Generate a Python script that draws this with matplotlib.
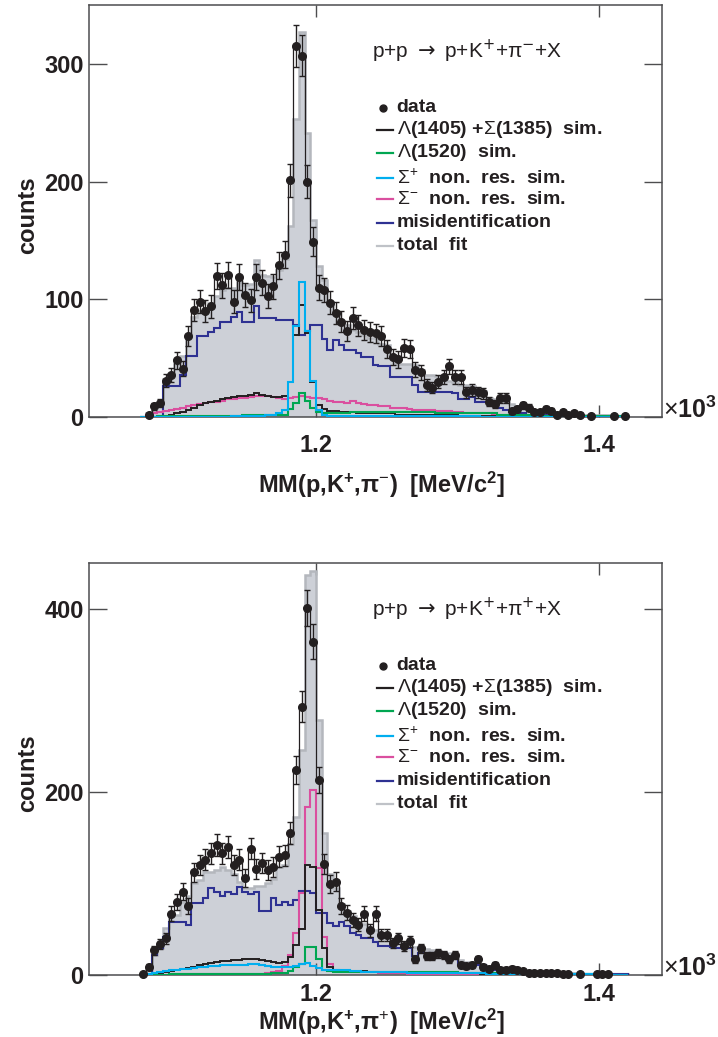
import numpy as np
import matplotlib
matplotlib.use("Agg")
import matplotlib.pyplot as plt
from matplotlib import font_manager as fm

# ---------------------------------------------------------------- binning
# 4 MeV bins of the missing mass (GeV/c^2 on the axis, x10^3 -> MeV)
edges = np.round(np.arange(1.076, 1.4201, 0.004), 3)

# ---------------------------------------------------------------- MM(p,K+,pi-)
data_pim = [0, 2, 9, 12, 31, 36, 48, 41, 69, 91,
            98, 90, 94, 120, 112, 121, 98, 119, 104, 99,
            119, 114, 103, 111, 129, 138, 201, 315, 307, 200,
            149, 110, 108, 97, 88, 81, 73, 84, 78, 74,
            72, 71, 69, 58, 51, 49, 59, 58, 40, 38,
            27, 25, 30, 34, 43, 34, 34, 21, 23, 21,
            20, 13, 11, 16, 16, 5, 7, 10, 8, 4,
            4, 7, 5, 2, 4, 2, 3, 2, 0, 1,
            0, 0, 0, 1, 0, 1]
fit_pim = [0, 3, 8, 12, 32, 36, 45, 52, 68, 85,
           90, 92, 97, 103, 108, 110, 110, 115, 112, 113,
           133, 121, 120, 119, 125, 134, 162, 253, 327, 241,
           167, 128, 116, 98, 88, 81, 78, 74, 72, 70,
           67, 67, 62, 61, 50, 45, 45, 45, 44, 40,
           36, 36, 35, 33, 31, 30, 27, 27, 26, 25,
           22, 16, 15, 14, 13, 11, 9, 8, 7, 6,
           5, 5, 4, 4, 3, 3, 3, 3, 2, 2,
           2, 2, 2, 1, 1, 1]
misid_pim = [0, 0, 0, 0, 26, 26, 26, 36, 52, 52,
             69, 69, 72, 76, 81, 81, 85, 89, 81, 81,
             94, 84, 84, 84, 82, 82, 82, 78, 70, 73,
             78, 78, 66, 57, 65, 61, 57, 57, 54, 51,
             51, 44, 43, 43, 34, 34, 34, 34, 27, 21,
             21, 21, 21, 21, 21, 20, 15, 15, 17, 13,
             13, 13, 12, 8, 6, 4, 3, 3, 2, 2,
             2, 2, 2, 1, 1, 1, 1, 1, 1, 1,
             1, 1, 1, 1, 1, 1]
sigm_pim = [0, 2, 3, 4, 5, 6, 7, 8, 9, 10,
            11, 12, 13, 13, 14, 15, 15, 16, 16, 17,
            18, 18, 18, 17, 16, 15, 16, 17, 18, 17,
            16, 16, 15, 14, 13, 13, 12, 14, 12, 11,
            10, 10, 9, 9, 8, 8, 8, 7, 6, 6,
            6, 6, 5, 5, 5, 4, 4, 3, 3, 3,
            3, 3, 2, 2, 2, 2, 2, 2, 1, 1,
            1, 1, 1, 1, 1, 1, 1, 1, 1, 1,
            1, 1, 0, 0, 0, 0]
lam1520_pim = [0, 0, 0, 1, 1, 1, 1, 1, 1, 1,
               1, 1, 1, 1, 1, 1, 1, 1, 2, 2,
               2, 2, 2, 2, 2, 2, 7, 12, 20, 14,
               8, 4, 3, 3, 3, 3, 3, 4, 4, 4,
               4, 4, 4, 4, 4, 4, 4, 4, 4, 4,
               4, 4, 3, 3, 3, 3, 3, 3, 3, 3,
               3, 3, 3, 2, 2, 2, 2, 2, 2, 2,
               2, 1, 1, 1, 1, 1, 1, 1, 1, 1,
               1, 1, 1, 1, 1, 0]
sigp_pim = [0, 0, 0, 0, 0, 0, 0, 0, 0, 0,
            0, 0, 0, 0, 0, 0, 1, 1, 1, 1,
            1, 1, 2, 2, 3, 6, 30, 77, 115, 73,
            31, 6, 2, 1, 1, 1, 1, 1, 1, 1,
            1, 1, 1, 1, 1, 1, 1, 1, 1, 1,
            1, 1, 1, 1, 1, 1, 1, 1, 1, 1,
            0, 0, 0, 0, 0, 0, 0, 0, 0, 0,
            0, 0, 0, 0, 0, 0, 0, 0, 0, 0,
            0, 0, 0, 0, 0, 0]
lam1405_pim = [0, 0, 0, 0, 1, 2, 3, 4, 6, 8,
               10, 12, 13, 14, 15, 16, 17, 18, 18, 19,
               20, 19, 18, 17, 17, 18, 30, 70, 95, 71,
               30, 10, 7, 5, 5, 4, 4, 4, 3, 3,
               3, 3, 3, 3, 3, 2, 2, 2, 2, 2,
               2, 2, 2, 2, 2, 2, 1, 1, 1, 1,
               1, 1, 1, 1, 1, 1, 1, 1, 1, 1,
               1, 1, 1, 1, 1, 0, 0, 0, 0, 0,
               0, 0, 0, 0, 0, 0]

# ---------------------------------------------------------------- MM(p,K+,pi+)
data_pip = [1, 9, 27, 34, 40, 67, 80, 91, 75, 112,
            120, 126, 133, 142, 133, 140, 120, 126, 106, 138,
            116, 122, 115, 118, 129, 131, 155, 224, 293, 401,
            364, 213, 121, 99, 102, 75, 68, 60, 55, 67,
            49, 67, 44, 44, 35, 40, 32, 37, 17, 29,
            21, 21, 24, 22, 17, 22, 11, 10, 11, 17,
            9, 7, 11, 6, 6, 7, 6, 4, 2, 2,
            2, 2, 2, 2, 1, 1, 0, 1, 0, 0,
            1, 1, 1, 0, 0, 0]
fit_pip = [0, 5, 22, 30, 51, 66, 66, 80, 86, 100,
           104, 113, 113, 115, 118, 115, 110, 102, 95, 95,
           97, 97, 100, 105, 118, 120, 143, 173, 246, 437,
           441, 279, 155, 110, 95, 78, 70, 64, 58, 56,
           50, 49, 44, 40, 36, 35, 34, 32, 31, 30,
           28, 27, 26, 25, 24, 21, 16, 14, 12, 12,
           11, 8, 8, 7, 7, 6, 4, 4, 3, 3,
           2, 2, 2, 2, 2, 2, 2, 1, 1, 1,
           1, 1, 1, 1, 1, 1]
misid_pip = [0, 0, 22, 30, 42, 58, 58, 58, 55, 79,
             79, 84, 95, 91, 86, 91, 89, 96, 91, 89,
             91, 70, 70, 84, 76, 80, 76, 82, 92, 92,
             90, 68, 68, 57, 54, 58, 53, 46, 44, 40,
             40, 36, 32, 32, 31, 30, 30, 30, 21, 24,
             24, 24, 24, 24, 17, 17, 11, 11, 11, 11,
             11, 6, 6, 6, 5, 5, 4, 2, 1, 1,
             1, 1, 1, 1, 1, 1, 1, 1, 1, 1,
             1, 1, 1, 1, 1, 1]
sigm_pip = [0, 0, 0, 0, 0, 1, 1, 1, 1, 1,
            1, 1, 1, 1, 1, 1, 1, 1, 1, 1,
            1, 1, 2, 3, 4, 10, 22, 46, 90, 184,
            202, 117, 42, 12, 6, 4, 4, 3, 3, 3,
            3, 3, 2, 2, 2, 2, 2, 1, 1, 1,
            1, 1, 1, 1, 1, 1, 1, 1, 1, 1,
            1, 1, 1, 1, 1, 1, 1, 1, 1, 1,
            1, 1, 1, 1, 0, 0, 0, 0, 0, 0,
            0, 0, 0, 0, 0, 0]
lam1520_pip = [0, 0, 0, 0, 0, 1, 1, 1, 1, 1,
               1, 1, 1, 1, 1, 1, 1, 1, 1, 1,
               1, 1, 1, 2, 2, 2, 4, 9, 12, 31,
               31, 17, 6, 4, 3, 3, 3, 3, 3, 3,
               3, 3, 3, 3, 3, 3, 3, 3, 3, 3,
               3, 3, 3, 3, 3, 3, 2, 2, 2, 2,
               2, 2, 2, 2, 2, 2, 2, 2, 2, 2,
               1, 1, 1, 1, 1, 1, 1, 1, 1, 1,
               1, 1, 1, 0, 0, 0]
sigp_pip = [0, 1, 2, 3, 4, 5, 6, 7, 7, 8,
            9, 9, 10, 10, 11, 11, 11, 11, 11, 12,
            12, 11, 10, 9, 9, 9, 9, 10, 12, 13,
            10, 8, 6, 5, 5, 6, 6, 4, 4, 3,
            3, 3, 3, 3, 3, 3, 3, 2, 2, 2,
            2, 2, 2, 2, 2, 2, 2, 2, 2, 2,
            2, 1, 1, 1, 1, 1, 1, 1, 1, 1,
            1, 1, 1, 1, 1, 1, 1, 1, 1, 1,
            1, 1, 0, 0, 0, 0]
lam1405_pip = [0, 0, 1, 2, 3, 4, 5, 7, 8, 9,
               11, 12, 13, 14, 15, 15, 16, 16, 17, 17,
               17, 16, 15, 14, 13, 14, 20, 33, 50, 120,
               118, 71, 29, 9, 6, 5, 5, 4, 4, 4,
               3, 3, 3, 3, 3, 3, 3, 3, 3, 3,
               3, 3, 2, 2, 2, 2, 2, 2, 2, 2,
               1, 1, 1, 1, 1, 1, 1, 1, 1, 1,
               1, 1, 1, 1, 0, 0, 0, 0, 0, 0,
               0, 0, 0, 0, 0, 0]

legend_labels = ["data",
                 r"$\Lambda$(1405) +$\Sigma$(1385)  sim.",
                 r"$\Lambda$(1520)  sim.",
                 r"$\Sigma^{+}$  non.  res.  sim.",
                 r"$\Sigma^{-}$  non.  res.  sim.",
                 "misidentification",
                 "total  fit"]

# ---------------------------------------------------------------- style
def has_font(name):
    try:
        fm.findfont(fm.FontProperties(family=name), fallback_to_default=False)
        return True
    except Exception:
        return False

SANS = "Liberation Sans" if has_font("Liberation Sans") else "DejaVu Sans"
NARROW = "Liberation Sans Narrow" if has_font("Liberation Sans Narrow") else SANS
BIG = 20 if NARROW != SANS else 17

plt.rcParams["font.family"] = [SANS, "DejaVu Sans"]
plt.rcParams["mathtext.fontset"] = "custom"
plt.rcParams["mathtext.rm"] = SANS
plt.rcParams["mathtext.it"] = SANS + ":italic"
plt.rcParams["mathtext.bf"] = SANS + ":bold"

INK = "#231f20"
C_AXIS = "#4d4d4f"
C_BLUE = "#2e3192"
C_CYAN = "#00aeef"
C_MAG = "#da4f9f"
C_GREEN = "#00a651"
C_FILL = "#cdd0d7"
C_FIT = "#b4b7bd"
LEG_COLORS = [None, INK, C_GREEN, C_CYAN, C_MAG, C_BLUE, "#bfc2c7"]

W, H = 718, 1037
fig = plt.figure(figsize=(W / 100, H / 100), dpi=100)


def fx(px):
    return px / W


def fy(py):
    return 1 - py / H


AX_L, AX_W, AX_H = 89.3, 572.4, 412.0
centers = 0.5 * (edges[:-1] + edges[1:])


def draw_panel(top_px, data, fit, l1405, l1520, sigp, sigm, misid,
               ymax, yticks, reaction, xlabel, xlabel_py, tick_pad):
    ax = fig.add_axes([fx(AX_L), fy(top_px + AX_H), AX_W / W, AX_H / H])

    ax.stairs(fit, edges, fill=True, color=C_FILL, lw=0, zorder=1)
    ax.stairs(fit, edges, color=C_FIT, lw=1.8, zorder=2)
    ax.stairs(misid, edges, color=C_BLUE, lw=1.5, zorder=3)
    ax.stairs(sigm, edges, color=C_MAG, lw=1.5, zorder=3)
    ax.stairs(l1405, edges, color=INK, lw=1.4, zorder=3)
    ax.stairs(l1520, edges, color=C_GREEN, lw=1.5, zorder=4)
    ax.stairs(sigp, edges, color=C_CYAN, lw=1.5, zorder=4)
    ax.stairs(data, edges, color=INK, lw=0.9, zorder=5)

    d = np.asarray(data, dtype=float)
    m = d > 0
    ax.errorbar(centers[m], d[m], yerr=np.sqrt(d[m]), fmt="o", ms=5.5,
                color=INK, ecolor=INK, elinewidth=1.0, capsize=2.4,
                capthick=1.0, zorder=6, clip_on=False)

    ax.set_xlim(1.04, 1.444)
    ax.set_ylim(0, ymax)
    ax.set_xticks([1.2, 1.4], labels=["1.2", "1.4"], fontfamily=NARROW,
                  fontweight="bold", fontsize=BIG, color=INK)
    ax.set_yticks(yticks, labels=[str(v) for v in yticks], fontfamily=NARROW,
                  fontweight="bold", fontsize=BIG, color=INK)
    ax.tick_params(axis="x", direction="in", length=8.5, width=1.0,
                   color=C_AXIS, top=True, bottom=True, pad=tick_pad)
    ax.tick_params(axis="y", direction="in", length=13, width=1.0,
                   color=C_AXIS, left=True, right=True, pad=4)
    for s in ax.spines.values():
        s.set_color(C_AXIS)
        s.set_linewidth(1.1)

    # reaction
    fig.text(fx(371.7), fy(top_px + 46.5), reaction, fontsize=15,
             color=INK, ha="left", va="center", math_fontfamily="dejavusans")

    # legend, drawn entry by entry
    rows = [103, 124.5, 147.5, 173, 194, 217.7, 241]
    for lab, col, r in zip(legend_labels, LEG_COLORS, rows):
        yy = fy(top_px + r)
        if col is None:
            fig.lines.append(plt.Line2D([fx(383)], [yy], marker="o", ms=5,
                                        color=INK, transform=fig.transFigure))
        else:
            fig.lines.append(plt.Line2D([fx(376.7), fx(393.3)], [yy, yy],
                                        color=col, lw=1.6,
                                        transform=fig.transFigure))
        fig.text(fx(396.7), yy, lab, fontsize=14, fontweight="bold",
                 color=INK, ha="left", va="center")

    # axis titles and the x10^3 multiplier
    fig.text(fx(28), fy(top_px + 210), "counts", rotation=90, fontsize=BIG,
             fontfamily=NARROW, fontweight="bold", color=INK,
             ha="center", va="center")
    fig.text(fx(381), fy(xlabel_py), xlabel, fontsize=BIG, fontfamily=NARROW,
             fontweight="bold", color=INK, ha="center", va="center")
    fig.text(fx(663), fy(top_px + 405), r"$\times$10$^{\mathbf{3}}$",
             fontsize=BIG + 1, fontfamily=NARROW, fontweight="bold",
             color=INK, ha="left", va="center")
    return ax


draw_panel(5, data_pim, fit_pim, lam1405_pim, lam1520_pim, sigp_pim,
           sigm_pim, misid_pim, 350, [0, 100, 200, 300],
           r"p+p$\;\rightarrow\;$p+K$^{+}$+π$^{-}$+X",
           r"MM(p,K$^{\mathbf{+}}$,π$^{-}$)  [MeV/c$^{\mathbf{2}}$]", 485, 12)
draw_panel(563, data_pip, fit_pip, lam1405_pip, lam1520_pip, sigp_pip,
           sigm_pip, misid_pip, 450, [0, 200, 400],
           r"p+p$\;\rightarrow\;$p+K$^{+}$+π$^{+}$+X",
           r"MM(p,K$^{\mathbf{+}}$,π$^{+}$)  [MeV/c$^{\mathbf{2}}$]", 1022, 6)

fig.savefig("out.png", dpi=100)
